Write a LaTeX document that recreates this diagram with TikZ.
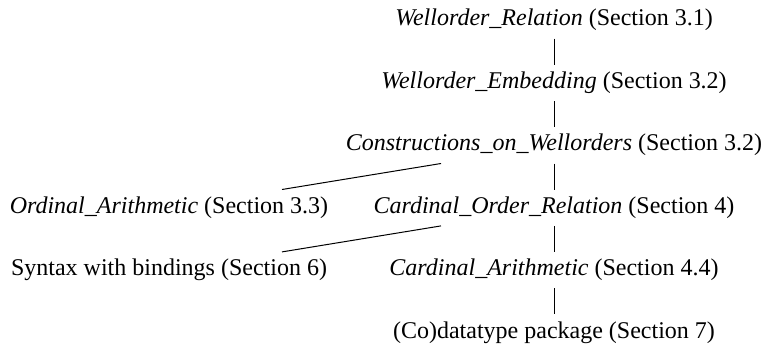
\documentclass[tikz,border=0pt]{standalone}
\usepackage{fontspec}
\setmainfont{Liberation Serif}
\usetikzlibrary{calc}
\begin{document}
\begin{tikzpicture}[x=1pt,y=-1pt,
  lbl/.style={anchor=base, inner xsep=0pt, inner ysep=7.5pt, text height=16pt, text depth=5pt,
    font=\fontsize{24}{28}\selectfont},
  conn/.style={line width=1pt}]
\useasboundingbox (0,0) rectangle (761,345);
\node[lbl] (wr) at (554,26) {\textit{Wellorder\_Relation} (Section 3.1)};
\node[lbl] (we) at (554,88.4) {\textit{Wellorder\_Embedding} (Section 3.2)};
\node[lbl] (cw) at (554,150.8) {\textit{Constructions\_on\_Wellorders} (Section 3.2)};
\node[lbl] (co) at (554,213.2) {\textit{Cardinal\_Order\_Relation} (Section 4)};
\node[lbl] (ca) at (554,275.6) {\textit{Cardinal\_Arithmetic} (Section 4.4)};
\node[lbl] (dt) at (554,338) {(Co)datatype package (Section 7)};
\node[lbl] (oa) at (169,213.2) {\textit{Ordinal\_Arithmetic} (Section 3.3)};
\node[lbl] (sb) at (169,275.6) {Syntax with bindings (Section 6)};
\draw[conn] (wr.south) -- (we.north);
\draw[conn] (we.south) -- (cw.north);
\draw[conn] (cw.south) -- (co.north);
\draw[conn] (co.south) -- (ca.north);
\draw[conn] (ca.south) -- (dt.north);
\draw[conn] ($(oa.north)+(113,0)$) -- ($(cw.south)+(-113,0)$);
\draw[conn] ($(sb.north)+(113,0)$) -- ($(co.south)+(-113,0)$);
\end{tikzpicture}
\end{document}
